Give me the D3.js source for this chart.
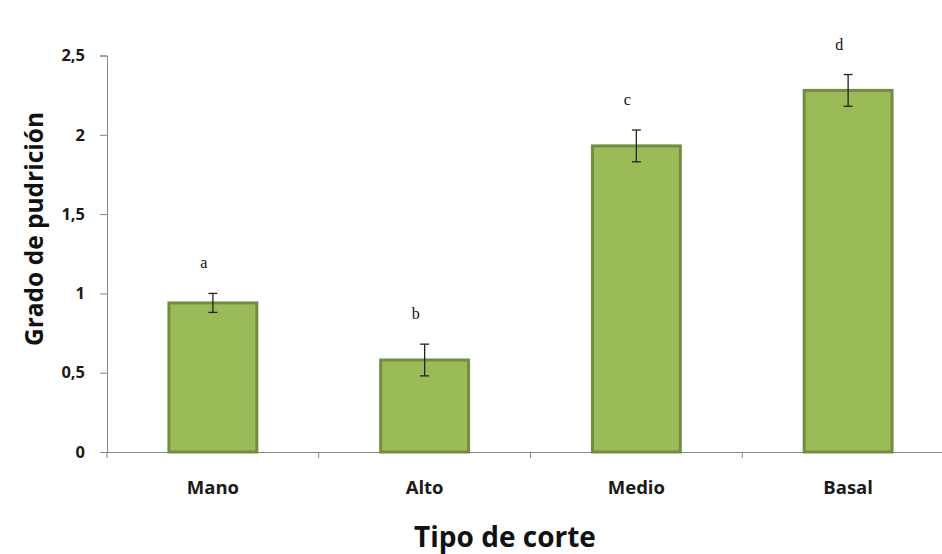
<!DOCTYPE html>
<html>
<head>
<meta charset="utf-8">
<script src="https://cdn.jsdelivr.net/npm/d3@7"></script>
<style>
  html, body { margin: 0; padding: 0; background: #ffffff; }
  svg { display: block; }
</style>
</head>
<body>
<svg id="chart" width="942" height="554"></svg>
<script>
// Rot grade per cutting type, with standard error and significance letters
const categories = ["Mano", "Alto", "Medio", "Basal"];
const meanValues = [0.94, 0.58, 1.93, 2.28];
const errorValues = [0.06, 0.10, 0.10, 0.10];
const groupLetters = ["a", "b", "c", "d"];
const yTicks = [0, 0.5, 1, 1.5, 2, 2.5];

const svg = d3.select("#chart");
const plotLeft = 107, plotRight = 954, plotTop = 55.5, plotBottom = 452;

const x = d3.scaleBand().domain(categories).range([plotLeft, plotRight]).paddingInner(0).paddingOuter(0);
const y = d3.scaleLinear().domain([0, 2.5]).range([plotBottom, plotTop]);
const barFrac = 0.415;
const fmt = v => String(v).replace(".", ",");

const axisColor = "#868686";
const labelFont = "'Open Sans', sans-serif";

// y axis
const yAxis = svg.append("g").attr("transform", `translate(${plotLeft},0)`)
  .call(d3.axisLeft(y).tickValues(yTicks).tickFormat(fmt).tickSize(7).tickPadding(15));
yAxis.select(".domain").attr("stroke", axisColor).attr("stroke-width", 1);
yAxis.selectAll(".tick line").attr("stroke", axisColor);
yAxis.selectAll(".tick text").attr("font-family", labelFont).attr("font-weight", "bold")
  .attr("font-size", 16.5).attr("fill", "#1a1a1a");

// x axis with tick marks at category boundaries
const xAxis = svg.append("g").attr("transform", `translate(0,${plotBottom})`)
  .call(d3.axisBottom(x).tickSize(0).tickPadding(29));
xAxis.select(".domain").attr("stroke", axisColor).attr("stroke-width", 1);
xAxis.selectAll(".tick text").attr("font-family", labelFont).attr("font-weight", "bold")
  .attr("font-size", 18.5).attr("fill", "#1a1a1a");
xAxis.selectAll(".boundary")
  .data(categories)
  .join("line")
  .attr("class", "boundary")
  .attr("x1", d => x(d)).attr("x2", d => x(d))
  .attr("y1", 0).attr("y2", 6)
  .attr("stroke", axisColor);

// bars
const bw = x.bandwidth() * barFrac;
const cx = d => x(d) + x.bandwidth() / 2;
svg.append("g").selectAll("rect")
  .data(categories)
  .join("rect")
  .attr("x", d => cx(d) - bw / 2)
  .attr("y", (d, i) => y(meanValues[i]))
  .attr("width", bw)
  .attr("height", (d, i) => y(0) - y(meanValues[i]))
  .attr("fill", "#9BBB59")
  .attr("stroke", "#738C40")
  .attr("stroke-width", 3);

// error bars
const eb = svg.append("g").attr("stroke", "#222").attr("stroke-width", 1.3);
categories.forEach((c, i) => {
  const hi = y(meanValues[i] + errorValues[i]);
  const lo = y(meanValues[i] - errorValues[i]);
  eb.append("line").attr("x1", cx(c)).attr("x2", cx(c)).attr("y1", hi).attr("y2", lo);
  eb.append("line").attr("x1", cx(c) - 4.5).attr("x2", cx(c) + 4.5).attr("y1", hi).attr("y2", hi);
  eb.append("line").attr("x1", cx(c) - 4.5).attr("x2", cx(c) + 4.5).attr("y1", lo).attr("y2", lo);
});

// significance letters
svg.append("g").selectAll("text")
  .data(categories)
  .join("text")
  .attr("x", d => cx(d) - 9)
  .attr("y", (d, i) => y(meanValues[i] + errorValues[i]) - 25)
  .attr("text-anchor", "middle")
  .attr("font-family", "'Liberation Serif', 'Times New Roman', serif")
  .attr("font-size", 16)
  .attr("fill", "#111")
  .text((d, i) => groupLetters[i]);

// axis titles
svg.append("text")
  .attr("transform", `translate(43,229) rotate(-90)`)
  .attr("text-anchor", "middle")
  .attr("font-family", labelFont).attr("font-weight", "bold").attr("font-size", 24.5)
  .attr("fill", "#111")
  .text("Grado de pudrición");

svg.append("text")
  .attr("x", 505).attr("y", 547)
  .attr("text-anchor", "middle")
  .attr("font-family", labelFont).attr("font-weight", "bold").attr("font-size", 28)
  .attr("fill", "#111")
  .text("Tipo de corte");
</script>
</body>
</html>
